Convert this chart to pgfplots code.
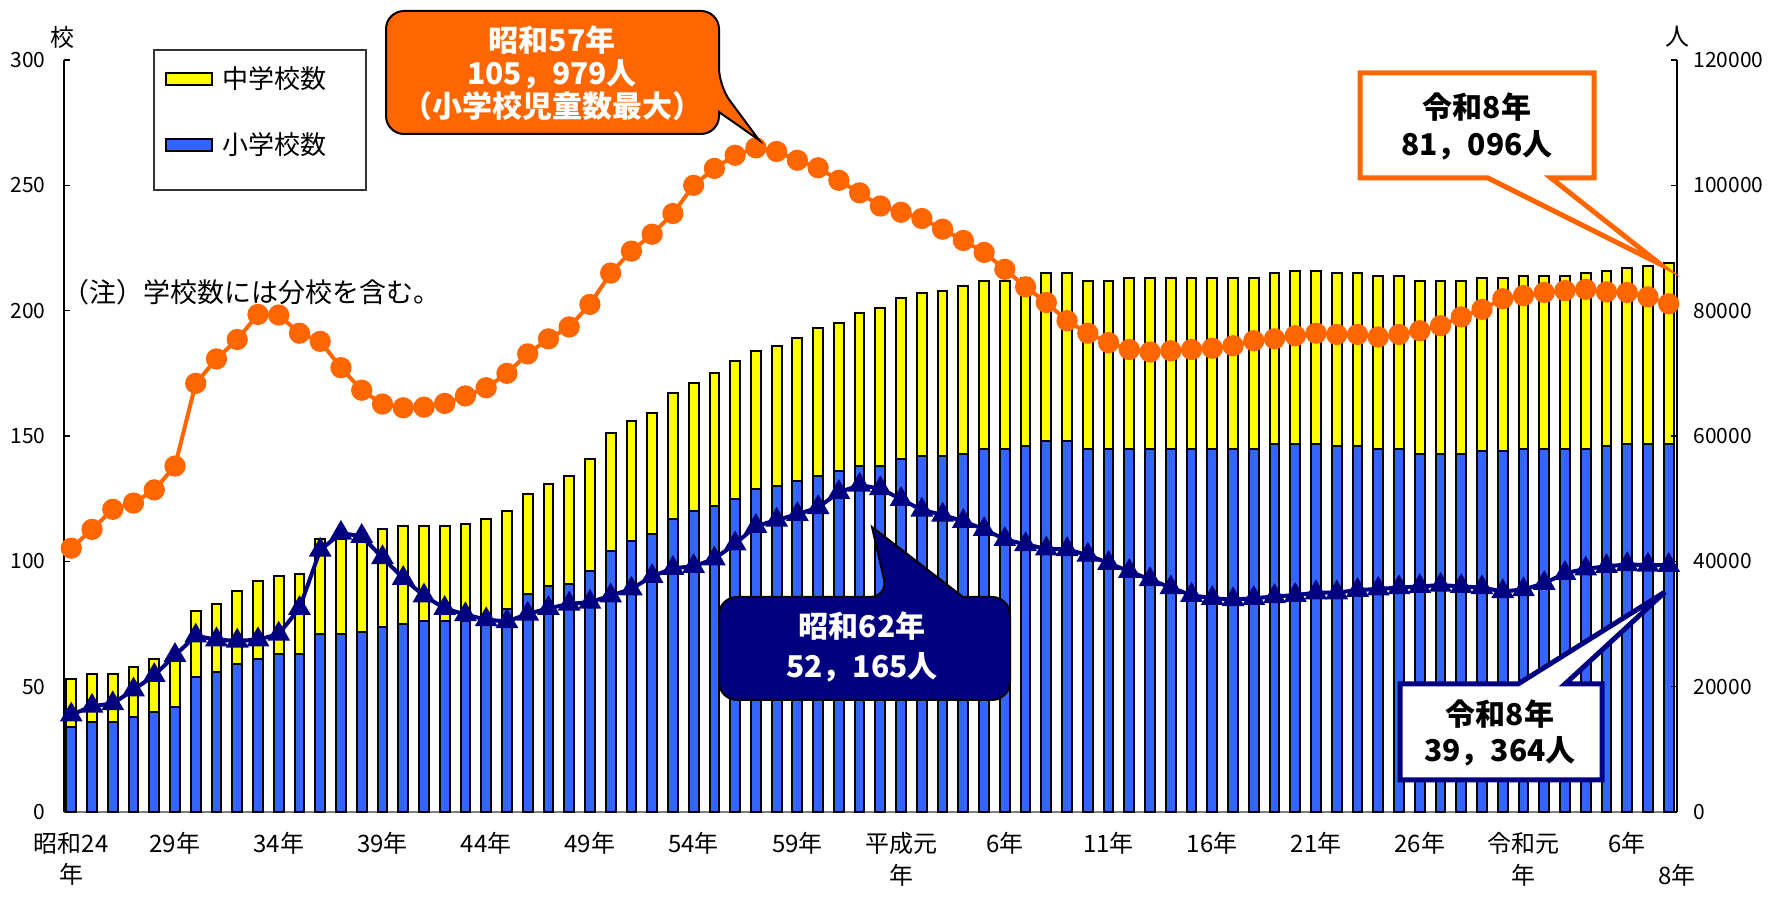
\documentclass[border=0pt]{standalone}
\usepackage{fontspec}
\setmainfont{Noto Sans CJK JP}
\usepackage{pgfplots}
\pgfplotsset{compat=1.18}
\usepackage{pgfplotstable}
\definecolor{orng}{HTML}{FF6600}
\definecolor{navyc}{HTML}{000080}
\definecolor{barblue}{HTML}{3366FF}
\definecolor{baryel}{HTML}{FFFF00}

\pgfplotstableread{
x sho chu jido seito
0 34 19 42100 15500
1 36 19 45100 16900
2 36 19 48300 17300
3 38 20 49300 19500
4 40 21 51400 21800
5 42 21 55200 25000
6 54 26 68400 28100
7 56 27 72300 27500
8 59 29 75400 27300
9 61 31 79400 27500
10 63 31 79300 28400
11 63 32 76400 32500
12 71 38 75100 41800
13 71 38 70900 44500
14 72 39 67300 44000
15 74 39 65100 40600
16 75 39 64500 37300
17 76 38 64600 34500
18 76 38 65200 32500
19 76 39 66400 31500
20 79 38 67700 30700
21 81 39 70000 30400
22 87 40 73100 31600
23 90 41 75500 32500
24 91 43 77400 33200
25 96 45 81000 33500
26 104 47 86000 34500
27 108 48 89500 35600
28 111 48 92200 37600
29 117 50 95500 38900
30 120 51 100000 39200
31 122 53 102700 40400
32 125 55 104800 42800
33 129 55 105979 45600
34 130 56 105400 46600
35 132 57 104000 47500
36 134 59 102800 48600
37 136 59 100800 51000
38 138 61 98800 52165
39 138 63 96700 51600
40 141 64 95700 49900
41 142 65 94700 48200
42 142 66 93000 47400
43 143 67 91200 46400
44 145 67 89300 45100
45 145 67 86600 43500
46 146 67 83800 42700
47 148 67 81300 42000
48 148 67 78400 41900
49 145 67 76400 41000
50 145 67 74900 39700
51 145 68 73800 38400
52 145 68 73400 37100
53 145 68 73600 35800
54 145 68 73800 34600
55 145 68 74000 34100
56 145 68 74400 33900
57 145 68 75200 34100
58 147 68 75500 34400
59 147 69 76000 34600
60 147 69 76400 35000
61 146 69 76200 35000
62 146 69 76200 35400
63 145 69 75800 35600
64 145 69 76200 35800
65 143 69 76800 36000
66 143 69 77600 36200
67 143 69 79000 36000
68 144 69 80200 35800
69 144 69 81900 35200
70 145 69 82400 35500
71 145 69 82900 36500
72 145 69 83200 38100
73 145 70 83400 38800
74 146 70 83000 39200
75 147 70 82900 39500
76 147 71 82200 39400
77 147 72 81096 39364
}\datatab

\begin{document}
\begin{tikzpicture}
\path[use as bounding box] (0,0) rectangle (886.5pt,449.5pt);
\begin{axis}[
  at={(32pt,43.5pt)}, anchor=south west,
  scale only axis, width=806.5pt, height=376pt,
  xmin=-0.35, xmax=77.4, ymin=0, ymax=300,
  enlargelimits=false,
  ybar stacked, bar width=0.47,
  axis x line*=bottom, axis y line*=left,
  axis line style={-},
  x axis line style={draw=gray, line width=0.8pt},
  y axis line style={draw=black, line width=0.8pt},
  ytick={0,50,...,300},
  xtick={0,5,...,75},
  xticklabels={{昭和24\\年},29年,34年,39年,44年,49年,54年,59年,{平成元\\年},6年,11年,16年,21年,26年,{令和元\\年},6年},
  extra x ticks={77},
  extra x tick labels={8年},
  extra x tick style={xticklabel style={yshift=-15.8pt, xshift=4pt}},
  xtick style={draw=none},
  tick align=inside, major tick length=3pt,
  ytick style={black, line width=0.6pt},
  /pgf/number format/assume math mode=true,
  yticklabel style={font=\fontsize{10.5}{12}\selectfont, inner sep=0pt, xshift=-9pt},
  xticklabel style={font=\fontsize{12}{15.8}\selectfont, align=center, inner sep=0pt, yshift=-10pt},
  clip=false,
]
\addplot[fill=barblue, draw=black, line width=1pt] table[x=x, y=sho] {\datatab};
\addplot[fill=baryel, draw=black, line width=1pt] table[x=x, y=chu] {\datatab};
\end{axis}
\begin{axis}[
  at={(32pt,43.5pt)}, anchor=south west,
  scale only axis, width=806.5pt, height=376pt,
  xmin=-0.35, xmax=77.4, ymin=0, ymax=120000,
  enlargelimits=false,
  axis x line=none, axis y line*=right,
  axis line style={-},
  y axis line style={draw=black, line width=0.8pt},
  ytick={0,20000,...,120000},
  scaled y ticks=false,
  tick align=inside, major tick length=3pt,
  ytick style={black, line width=0.6pt},
  /pgf/number format/assume math mode=true,
  /pgf/number format/fixed,
  /pgf/number format/1000 sep={},
  yticklabel style={font=\fontsize{10.5}{12}\selectfont, inner sep=0pt, xshift=8pt},
  clip=false,
]
\addplot[color=orng, line width=2pt, mark=*, mark size=4.3pt, mark options={solid, fill=orng, draw=orng}] table[x=x, y=jido] {\datatab};
\addplot[color=navyc, line width=2pt, mark=triangle*, mark size=4.6pt, mark options={solid, fill=navyc, draw=navyc}] table[x=x, y=seito] {\datatab};
\end{axis}

\begin{scope}[x=0.5pt, y=-0.5pt, yshift=449.5pt]
% axis unit labels
\node[font=\fontsize{12}{14}\selectfont] at (62,37) {校};
\node[font=\fontsize{12}{14}\selectfont] at (1677,37) {人};
% legend
\draw[draw=black!80, line width=0.6pt, fill=white] (154,50) rectangle (366,190);
\draw[fill=baryel, draw=black, line width=1.2pt] (166,73) rectangle (212,85);
\draw[fill=barblue, draw=black, line width=1.2pt] (166,139) rectangle (212,151);
\node[anchor=west, inner sep=0pt, font=\fontsize{13}{15}\selectfont] at (222,79) {中学校数};
\node[anchor=west, inner sep=0pt, font=\fontsize{13}{15}\selectfont] at (222,145) {小学校数};
% note
\node[anchor=west, inner sep=0pt, font=\fontsize{13.5}{15}\selectfont] at (62,292) {（注）学校数には分校を含む。};
% orange callout 1
\filldraw[fill=orng, draw=black, line width=1pt, rounded corners=9pt]
  (552,11) -- (719,11) -- (719,86) [sharp corners] -- (759,140) -- (719,112) [rounded corners=9pt] -- (719,134) -- (386,134) -- (386,11) -- cycle;
\node[text=white, font=\bfseries\fontsize{15}{16.5}\selectfont, align=center] at (552,73) {昭和57年\\105，979人\\（小学校児童数最大）};
% orange callout 2
\filldraw[fill=white, draw=orng, line width=2.5pt]
  (1360,73) -- (1594,73) -- (1594,178) -- (1551,178) -- (1660,264) -- (1488,178) -- (1360,178) -- cycle;
\node[text=black, font=\bfseries\fontsize{15}{18.5}\selectfont, align=center] at (1477,126) {令和8年\\81，096人};
% navy callout 1
\filldraw[fill=navyc, draw=black, line width=1pt, rounded corners=9pt]
  (719,650) -- (719,597) -- (888,597) [sharp corners] -- (872,527) -- (963,597) [rounded corners=9pt] -- (1010,597) -- (1010,700) -- (719,700) -- cycle;
\node[text=white, font=\bfseries\fontsize{15}{20}\selectfont, align=center] at (862,647) {昭和62年\\52，165人};
% navy callout 2
\filldraw[fill=white, draw=navyc, line width=2.5pt]
  (1400,684) -- (1518,684) -- (1665,592) -- (1565,684) -- (1602,684) -- (1602,780) -- (1400,780) -- cycle;
\node[text=black, font=\bfseries\fontsize{15}{18}\selectfont, align=center] at (1500,733) {令和8年\\39，364人};
\end{scope}
\end{tikzpicture}
\end{document}
